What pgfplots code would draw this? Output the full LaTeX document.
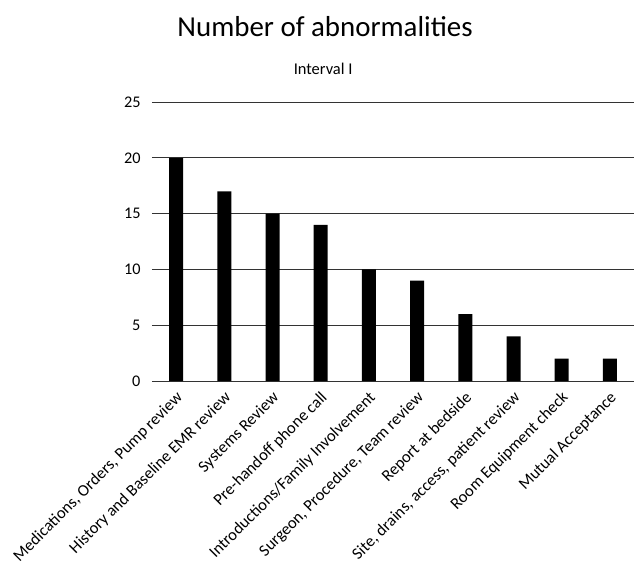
\documentclass[border=0pt]{standalone}
\usepackage{fontspec}
\setmainfont{Carlito}
\usepackage{pgfplots}
\pgfplotsset{compat=1.18}
\begin{document}
\begin{tikzpicture}
\begin{axis}[
  name=ax,
  scale only axis, width=482bp, height=279bp,
  ybar, bar width=14bp,
  xmin=-0.5, xmax=9.5, ymin=0, ymax=25,
  ytick={0,5,...,25},
  xtick=data,
  xticklabels={{Medications, Orders, Pump review},{History and Baseline EMR review},{Systems Review},{Pre-handoff phone call},{Introductions/Family Involvement},{Surgeon, Procedure, Team review},{Report at bedside},{Site, drains, access, patient review},{Room Equipment check},{Mutual Acceptance}},
  x tick label style={xshift=-1bp, yshift=-9bp, rotate=45, anchor=north east, font=\fontsize{16.6}{19}\selectfont, inner sep=0bp},
  y tick label style={font=\fontsize{16.3}{19}\selectfont, xshift=-8bp},
  /pgf/number format/assume math mode=true,
  ymajorgrids, grid style={black!80, line width=0.9bp},
  axis line style={draw=none},
  major tick length=0,
  clip=false,
]
\addplot[fill=black, draw=none] coordinates {(0,20) (1,17) (2,15) (3,14) (4,10) (5,9) (6,6) (7,4) (8,2) (9,2)};
\node[font=\fontsize{29}{33}\selectfont, anchor=base] at (axis description cs:0.359,1) [yshift=66bp] {Number of abnormalities};
\node[font=\fontsize{16.5}{19}\selectfont, anchor=base] at (axis description cs:0.355,1) [yshift=28bp] {Interval I};
\end{axis}
\pgfresetboundingbox
\useasboundingbox ([xshift=-152bp,yshift=102bp]ax.north west) rectangle ([yshift=-180bp]ax.south east);
\end{tikzpicture}
\end{document}
